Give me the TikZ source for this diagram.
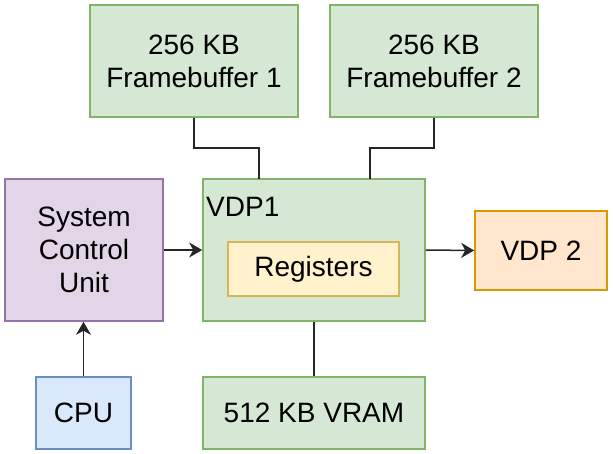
\documentclass[tikz,border=0pt]{standalone}
\usepackage{fontspec}
\setmainfont{Liberation Sans}
\usetikzlibrary{arrows.meta}
\definecolor{gfill}{HTML}{D5E8D4}\definecolor{gline}{HTML}{82B366}
\definecolor{pfill}{HTML}{E1D5E7}\definecolor{pline}{HTML}{9673A6}
\definecolor{yfill}{HTML}{FFF2CC}\definecolor{yline}{HTML}{D6B656}
\definecolor{ofill}{HTML}{FFE6CC}\definecolor{oline}{HTML}{D79B00}
\definecolor{bfill}{HTML}{DAE8FC}\definecolor{bline}{HTML}{6C8EBF}
\begin{document}
\begin{tikzpicture}[x=1pt,y=-1pt,
  box/.style={draw, line width=1.6pt, inner sep=0pt, align=center,
    font=\fontsize{28}{33}\selectfont},
  gbox/.style={box, fill=gfill, draw=gline},
  conn/.style={line width=1.5pt, draw=black!85},
  arr/.style={conn, -{Stealth[length=13pt,width=15pt,inset=4pt]}}]
\useasboundingbox (0,0) rectangle (613,454);
\node[gbox, minimum width=208pt, minimum height=112pt] (fb1) at (194,61) {256 KB\\Framebuffer 1};
\node[gbox, minimum width=208pt, minimum height=112pt] (fb2) at (434,61) {256 KB\\Framebuffer 2};
\node[gbox, minimum width=222pt, minimum height=142pt] (vdp1) at (314,250) {};
\node[font=\fontsize{28}{33}\selectfont, anchor=west, inner sep=0pt] (vdp1l) at (206,207) {VDP1};
\node[box, fill=yfill, draw=yline, minimum width=171pt, minimum height=54pt] (reg) at (313.5,269) {Registers\vphantom{g}};
\node[box, fill=pfill, draw=pline, minimum width=158pt, minimum height=142pt] (scu) at (84,250) {System\\Control\\Unit};
\node[box, fill=ofill, draw=oline, minimum width=132pt, minimum height=79pt] (vdp2) at (541,250.5) {VDP 2};
\node[box, fill=bfill, draw=bline, minimum width=95pt, minimum height=72pt] (cpu) at (83.5,413) {CPU};
\node[gbox, minimum width=222pt, minimum height=72pt] (vram) at (314,413) {512 KB VRAM};
\coordinate (v1a) at (259,179);
\coordinate (v1b) at (370,179);
\draw[conn] (fb1.south) |- (226.5,148) -| (v1a);
\draw[conn] (fb2.south) |- (402,148) -| (v1b);
\draw[arr] (scu.east) -- (vdp1.west);
\draw[arr] (vdp1.east) -- (vdp2.west);
\draw[arr] (cpu.north) -- (cpu.north |- scu.south);
\draw[conn] (vdp1.south) -- (vram.north);
\end{tikzpicture}
\end{document}
